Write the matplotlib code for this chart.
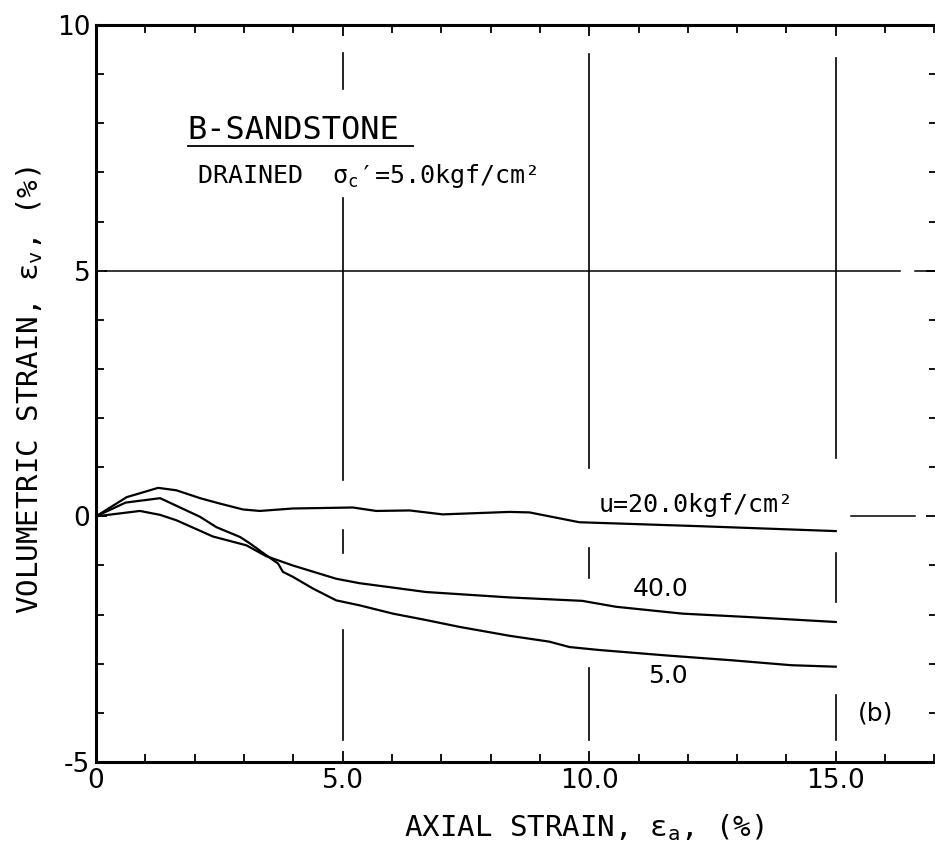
import numpy as np
import matplotlib
matplotlib.use('Agg')
import matplotlib.pyplot as plt
from matplotlib.ticker import MultipleLocator, FixedLocator

MONO = 'DejaVu Sans Mono'
SANS = 'DejaVu Sans'
plt.rcParams['font.family'] = [SANS]
plt.rcParams['mathtext.fontset'] = 'custom'
plt.rcParams['mathtext.rm'] = MONO
plt.rcParams['mathtext.it'] = MONO

# --- curve data (axial strain %, volumetric strain %) ---
u20_x = [0, 0.62, 1.26, 1.63, 2.11, 2.51, 2.98, 3.32, 3.99, 5.21, 5.68, 6.36,
         7.03, 8.38, 8.79, 9.8, 12.23, 15.0]
u20_y = [0, 0.39, 0.58, 0.53, 0.37, 0.26, 0.14, 0.11, 0.16, 0.18, 0.11, 0.12,
         0.04, 0.09, 0.08, -0.12, -0.20, -0.30]

u5_x = [0, 0.6, 1.30, 2.11, 2.44, 2.92, 3.12, 3.45, 3.69, 3.79, 3.99, 4.40,
        4.87, 5.34, 6.02, 6.69, 7.37, 8.38, 9.19, 9.6, 10.2, 11.55, 12.9,
        14.1, 15.0]
u5_y = [0, 0.28, 0.37, -0.01, -0.22, -0.42, -0.55, -0.79, -0.96, -1.13,
        -1.23, -1.47, -1.71, -1.81, -1.98, -2.11, -2.25, -2.43, -2.55, -2.66,
        -2.72, -2.83, -2.93, -3.03, -3.06]

u40_x = [0, 0.89, 1.30, 1.63, 2.37, 3.05, 3.45, 3.99, 4.87, 5.34, 6.02, 6.69,
         8.38, 9.86, 10.54, 11.89, 13.24, 15.0]
u40_y = [0, 0.11, 0.03, -0.08, -0.41, -0.59, -0.81, -1.00, -1.27, -1.36,
         -1.45, -1.54, -1.65, -1.72, -1.84, -1.98, -2.05, -2.15]

x_ticks = [0, 5, 10, 15]
x_tick_labels = ['0', '5.0', '10.0', '15.0']
y_ticks = [-5, 0, 5, 10]
y_tick_labels = ['-5', '0', '5', '10']

fig = plt.figure(figsize=(9.35, 8.48), dpi=100)
ax = fig.add_axes([0.1027, 0.1014, 0.8993, 0.8691])

ax.set_xlim(0, 17.05)
ax.set_ylim(-5, 10)

# broken guide lines of the original chart paper
vsegs = {
    5: [(8.70, 9.43), (0.73, 6.48), (-0.75, -0.28), (-4.55, -2.32)],
    10: [(0.98, 9.41), (-1.26, -0.65), (-4.55, -3.09)],
    15: [(1.18, 9.33), (-1.75, -0.75), (-4.55, -3.64)],
}
for xv, segs in vsegs.items():
    for lo, hi in segs:
        ax.plot([xv, xv], [lo, hi], color='black', lw=1.2, zorder=1)
ax.plot([0.18, 16.3], [5, 5], color='black', lw=1.1, zorder=1)
ax.plot([16.6, 17.05], [5, 5], color='black', lw=1.1, zorder=1)
ax.plot([15.3, 16.6], [0, 0], color='black', lw=1.1, zorder=1)

for xs, ys in [(u20_x, u20_y), (u5_x, u5_y), (u40_x, u40_y)]:
    ax.plot(xs, ys, color='black', lw=1.6, zorder=3)

# spines / ticks
for s in ['left', 'bottom', 'top']:
    ax.spines[s].set_linewidth(2.2)
ax.spines['right'].set_visible(False)
ax.xaxis.set_major_locator(FixedLocator(x_ticks))
ax.yaxis.set_major_locator(FixedLocator(y_ticks))
ax.set_xticklabels(x_tick_labels)
ax.set_yticklabels(y_tick_labels)
ax.xaxis.set_minor_locator(MultipleLocator(1))
ax.yaxis.set_minor_locator(MultipleLocator(1))
ax.tick_params(which='both', direction='in', top=True, right=True,
               width=1.3, labelsize=19, pad=4)
ax.tick_params(which='major', length=8)
ax.tick_params(which='minor', length=6)

ax.set_xlabel(r'AXIAL STRAIN, ε$_{a}$, (%)', fontsize=21, family=MONO)
ax.xaxis.set_label_coords(0.580, -0.068)
ax.set_ylabel(r'VOLUMETRIC STRAIN, ε$_{v}$, (%)', fontsize=21, family=MONO)
ax.yaxis.set_label_coords(-0.061, 0.505)

# annotations
ax.text(1.86, 7.85, 'B-SANDSTONE', fontsize=23, va='center', ha='left',
        family=MONO)
ax.plot([1.86, 6.43], [7.54, 7.54], color='black', lw=1.3)
ax.text(2.04, 6.93, "DRAINED  σ$_c$′=5.0kgf/cm²", fontsize=18,
        va='center', ha='left', family=MONO)
ax.text(12.17, 0.24, 'u=20.0kgf/cm²', fontsize=18, ha='center', va='center',
        family=MONO)
ax.text(11.44, -1.48, '40.0', fontsize=18, ha='center', va='center')
ax.text(11.6, -3.25, '5.0', fontsize=18, ha='center', va='center')
ax.text(15.8, -4.02, '(b)', fontsize=18, ha='center', va='center')

fig.savefig('out.png', dpi=100)
